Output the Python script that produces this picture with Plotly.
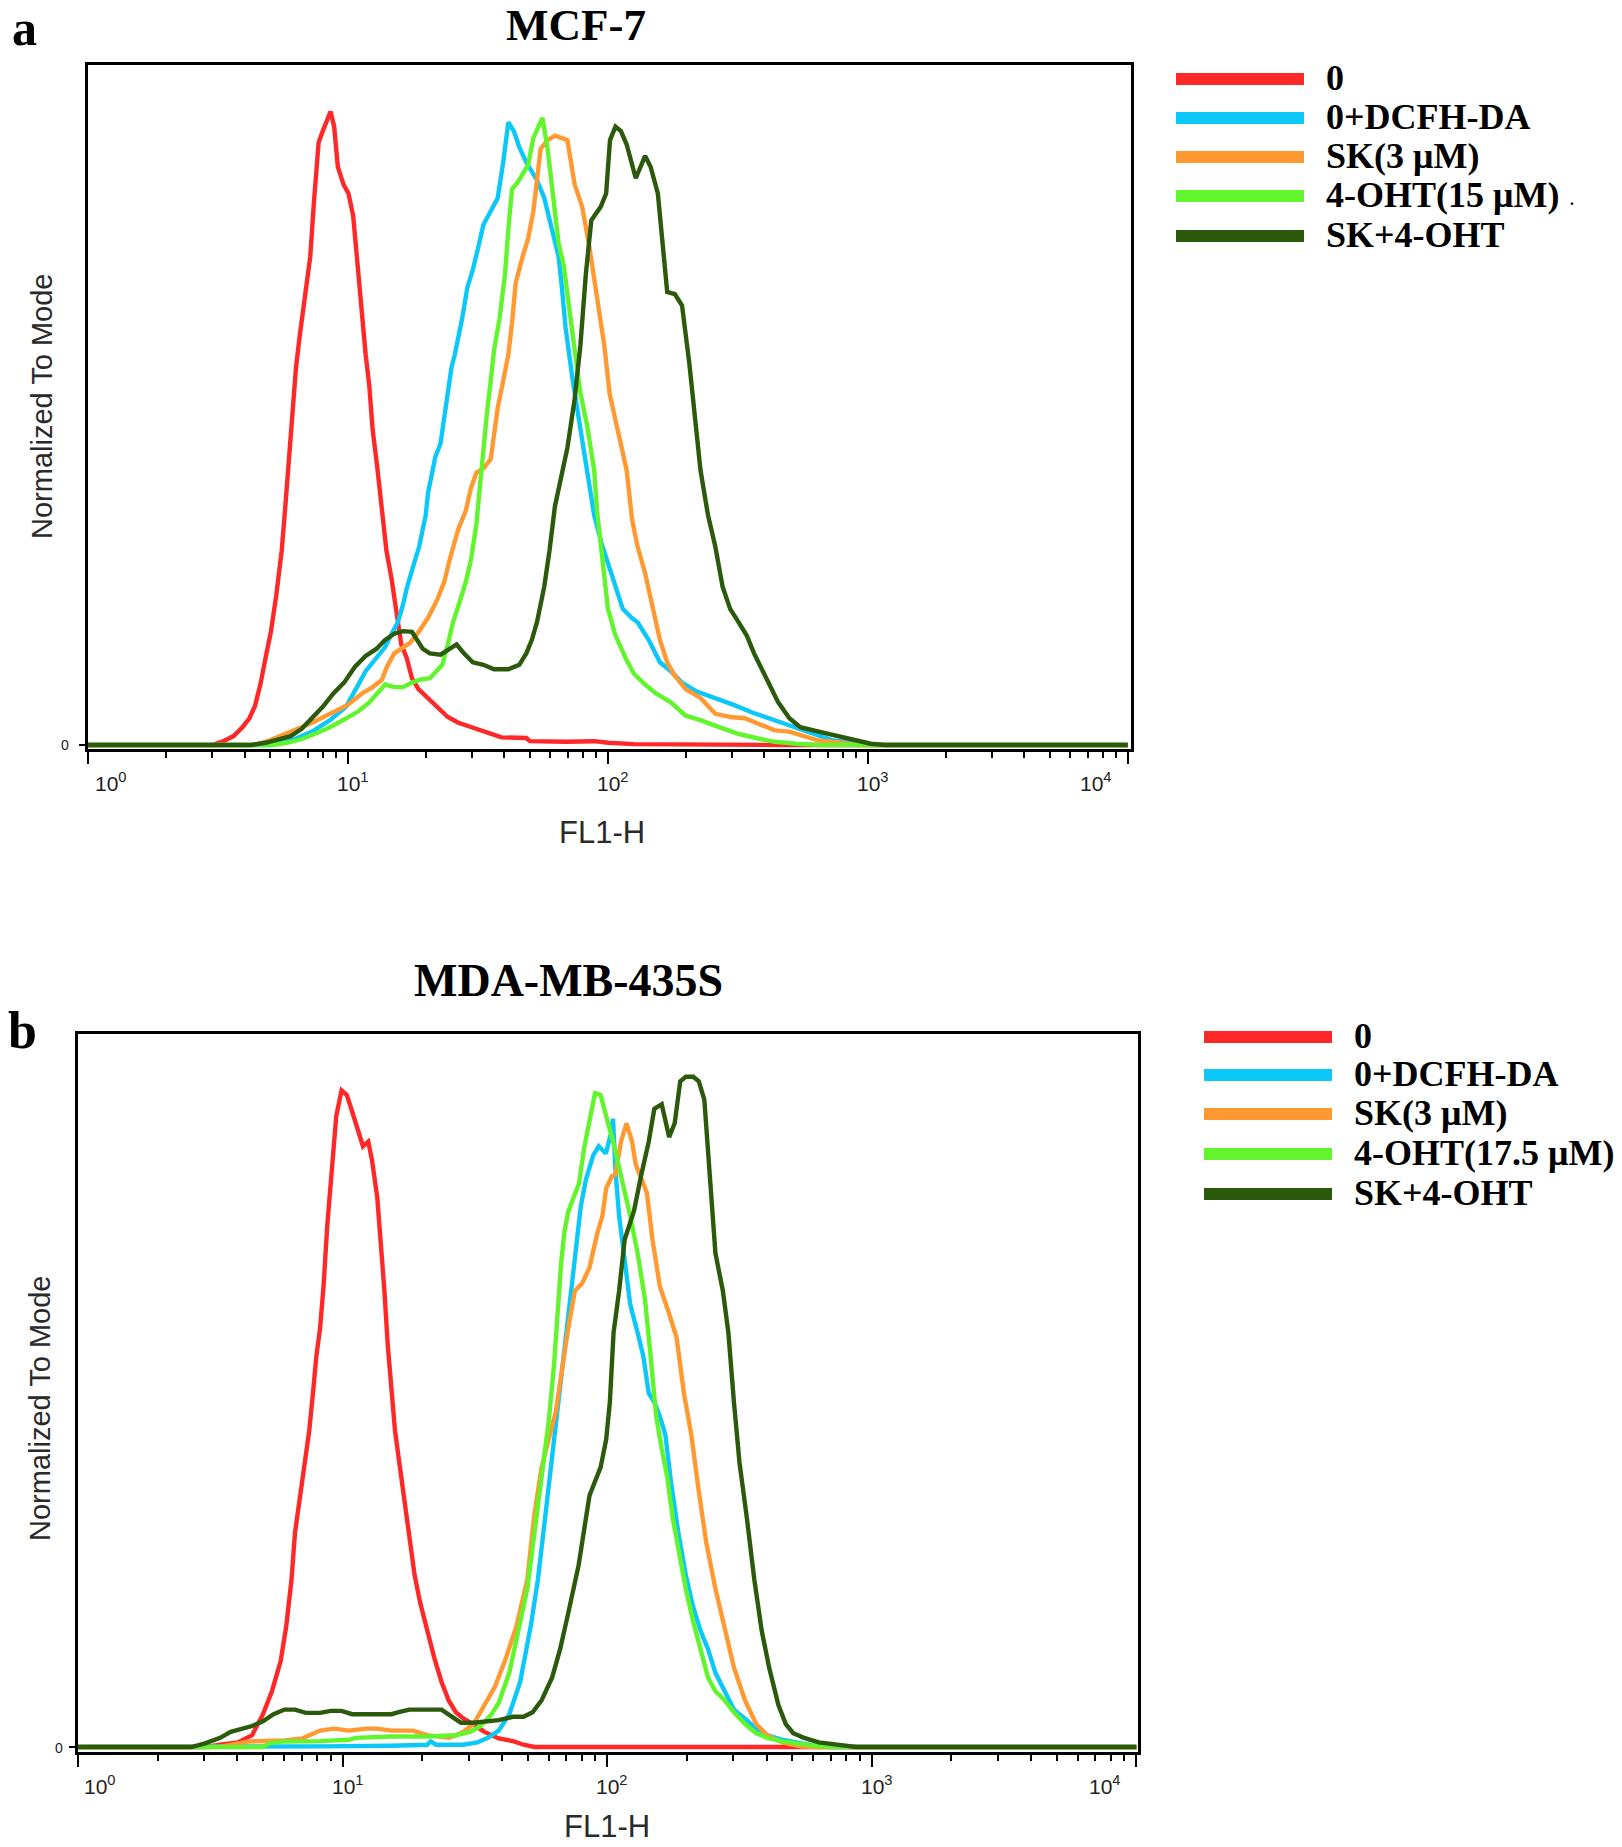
import numpy as np
import plotly.graph_objects as go

W, H = 1622, 1847

# ---------------- data (x = log10 FL1-H, y = % of mode) ----------------
SERIES_A = ["0", "0+DCFH-DA", "SK(3 μM)", "4-OHT(15 μM)", "SK+4-OHT"]
SERIES_B = ["0", "0+DCFH-DA", "SK(3 μM)", "4-OHT(17.5 μM)", "SK+4-OHT"]
COLORS = ["#FF2828", "#0CC8F8", "#FF9A33", "#62F52E", "#2C5A0C"]
DECADE_LABELS = ["10<sup>0</sup>", "10<sup>1</sup>", "10<sup>2</sup>", "10<sup>3</sup>", "10<sup>4</sup>"]

A_RED = [(0, 0), (0.477, 0), (0.518, 0.56), (0.560, 1.4), (0.594, 2.8), (0.621, 4.2), (0.642, 6.1),
         (0.663, 9.5), (0.683, 13.7), (0.704, 17.9), (0.724, 23.5), (0.745, 30.5), (0.759, 37.5),
         (0.773, 44.6), (0.786, 51.6), (0.800, 59.3), (0.814, 64.2), (0.828, 68.4), (0.841, 72.6),
         (0.855, 76.8), (0.869, 85.3), (0.887, 94.7), (0.903, 96.5), (0.933, 99.6), (0.947, 97.2),
         (0.961, 90.9), (0.983, 88.1), (1.002, 86.7), (1.020, 83.2), (1.038, 74.7), (1.054, 68.4),
         (1.068, 61.4), (1.082, 56.5), (1.095, 49.5), (1.112, 43.9), (1.130, 37.5), (1.148, 30.5),
         (1.167, 26.3), (1.185, 21.4), (1.205, 15.8), (1.226, 13.7), (1.246, 10.5), (1.271, 8.8),
         (1.308, 7.4), (1.343, 6.0), (1.384, 4.4), (1.425, 3.5), (1.480, 2.7), (1.535, 1.9),
         (1.590, 1.2), (1.686, 1.1), (1.700, 0.6), (1.837, 0.5), (1.920, 0.7), (1.947, 0.6),
         (2.002, 0.35), (2.10, 0.14), (2.641, 0), (4.0, 0)]
A_BLUE = [(0, 0), (0.697, 0), (0.738, 0.35), (0.793, 0.9), (0.862, 2.1), (0.931, 3.9), (0.992, 6.0),
          (1.013, 7.4), (1.040, 9.5), (1.068, 11.6), (1.109, 13.7), (1.143, 15.4), (1.164, 17.2),
          (1.192, 19.3), (1.212, 22.1), (1.226, 24.6), (1.253, 28.4), (1.274, 31.2), (1.288, 34.0),
          (1.299, 36.1), (1.308, 39.6), (1.322, 42.5), (1.336, 45.3), (1.356, 47.4), (1.370, 51.6),
          (1.384, 55.1), (1.398, 59.3), (1.411, 61.4), (1.425, 64.2), (1.439, 67.0), (1.459, 71.9),
          (1.480, 74.7), (1.501, 78.2), (1.521, 81.8), (1.549, 83.9), (1.576, 86.0), (1.597, 91.6),
          (1.617, 97.9), (1.638, 96.5), (1.659, 94.0), (1.686, 91.6), (1.727, 88.8), (1.755, 86.0),
          (1.782, 81.8), (1.810, 76.8), (1.823, 71.9), (1.837, 65.6), (1.865, 57.2), (1.892, 50.2),
          (1.920, 43.2), (1.947, 36.1), (1.974, 31.9), (2.002, 28.4), (2.029, 24.9), (2.057, 21.4),
          (2.091, 20.0), (2.114, 19.3), (2.157, 16.5), (2.200, 13.0), (2.242, 11.6), (2.285, 9.8),
          (2.342, 8.4), (2.413, 7.4), (2.484, 6.3), (2.555, 5.1), (2.626, 4.2), (2.683, 3.3),
          (2.740, 2.5), (2.811, 1.4), (2.868, 0.7), (2.954, 0.35), (3.011, 0), (4.0, 0)]
A_ORANGE = [(0, 0), (0.642, 0), (0.697, 0.7), (0.752, 1.6), (0.807, 2.5), (0.862, 3.5), (0.931, 4.9),
            (0.999, 6.3), (1.054, 8.1), (1.095, 9.1), (1.130, 10.2), (1.150, 12.3), (1.178, 14.4),
            (1.205, 15.1), (1.240, 16.1), (1.274, 17.9), (1.308, 20.0), (1.343, 22.8), (1.370, 25.6),
            (1.391, 29.1), (1.404, 31.2), (1.425, 34.0), (1.453, 36.8), (1.473, 40.4), (1.494, 42.8),
            (1.521, 43.5), (1.549, 44.9), (1.562, 48.8), (1.576, 53.0), (1.597, 57.2), (1.617, 61.4),
            (1.631, 66.3), (1.645, 72.6), (1.672, 76.8), (1.693, 79.6), (1.713, 83.9), (1.727, 89.5),
            (1.741, 93.7), (1.768, 95.1), (1.796, 95.8), (1.823, 95.4), (1.844, 95.1), (1.872, 88.1),
            (1.901, 84.6), (1.929, 78.2), (1.958, 69.8), (1.986, 62.8), (2.007, 55.1), (2.043, 48.8),
            (2.072, 43.2), (2.093, 35.4), (2.114, 31.2), (2.143, 27.0), (2.171, 22.1), (2.200, 16.5),
            (2.228, 13.0), (2.257, 10.9), (2.299, 8.8), (2.356, 7.4), (2.413, 4.9), (2.470, 4.4),
            (2.527, 4.2), (2.584, 3.2), (2.641, 2.3), (2.698, 2.1), (2.754, 1.4), (2.811, 0.7),
            (2.897, 0.35), (2.954, 0), (4.0, 0)]
A_GREEN = [(0, 0), (0.711, 0), (0.766, 0.35), (0.821, 0.9), (0.876, 1.8), (0.931, 2.8), (0.985, 4.0),
           (1.040, 5.3), (1.082, 6.7), (1.116, 8.4), (1.143, 9.5), (1.178, 9.1), (1.212, 9.1),
           (1.246, 9.8), (1.281, 10.3), (1.315, 10.5), (1.343, 11.6), (1.363, 12.6), (1.384, 15.8),
           (1.404, 19.3), (1.432, 22.8), (1.453, 25.6), (1.473, 29.1), (1.494, 34.7), (1.507, 40.4),
           (1.521, 46.7), (1.535, 52.3), (1.549, 57.2), (1.562, 62.1), (1.583, 67.0), (1.604, 74.0),
           (1.617, 81.1), (1.631, 87.4), (1.652, 88.4), (1.672, 89.8), (1.693, 91.2), (1.713, 95.4),
           (1.734, 97.5), (1.748, 98.6), (1.768, 93.7), (1.789, 86.7), (1.810, 78.9), (1.830, 75.4),
           (1.851, 68.4), (1.871, 61.4), (1.892, 55.8), (1.920, 50.2), (1.947, 43.2), (1.958, 36.8),
           (1.979, 29.1), (2.000, 21.4), (2.029, 17.2), (2.072, 13.3), (2.100, 11.2), (2.143, 9.5),
           (2.185, 8.1), (2.242, 6.7), (2.299, 4.6), (2.356, 3.9), (2.427, 2.8), (2.498, 1.8),
           (2.569, 1.1), (2.641, 0.5), (2.726, 0.2), (2.811, 0), (4.0, 0)]
A_DARK = [(0, 0), (0.628, 0), (0.683, 0.35), (0.738, 0.9), (0.779, 1.4), (0.821, 2.5), (0.862, 4.2),
          (0.903, 6.0), (0.944, 8.1), (0.985, 9.8), (1.027, 12.3), (1.068, 14.0), (1.109, 15.1),
          (1.143, 16.5), (1.178, 17.5), (1.212, 17.9), (1.246, 17.8), (1.267, 16.5), (1.288, 15.1),
          (1.315, 14.4), (1.356, 14.2), (1.391, 15.1), (1.418, 15.8), (1.446, 14.4), (1.480, 13.0),
          (1.521, 12.6), (1.562, 11.9), (1.617, 11.9), (1.659, 12.6), (1.686, 14.4), (1.707, 16.5),
          (1.727, 19.3), (1.755, 24.9), (1.775, 30.5), (1.796, 37.5), (1.844, 46.7), (1.872, 54.4),
          (1.894, 62.8), (1.915, 74.0), (1.936, 82.5), (1.972, 84.6), (1.993, 86.7), (2.008, 95.1),
          (2.029, 97.2), (2.050, 96.5), (2.072, 94.4), (2.107, 89.1), (2.143, 92.6), (2.164, 90.9),
          (2.192, 86.7), (2.214, 78.2), (2.228, 71.2), (2.257, 70.9), (2.285, 69.1), (2.313, 60.0),
          (2.335, 51.6), (2.356, 43.2), (2.385, 36.1), (2.413, 31.2), (2.441, 24.9), (2.470, 21.4),
          (2.498, 19.6), (2.534, 17.2), (2.562, 14.4), (2.612, 10.2), (2.655, 6.7), (2.698, 4.2),
          (2.740, 2.8), (2.811, 2.1), (2.883, 1.4), (2.954, 0.7), (3.011, 0.2), (3.068, 0), (4.0, 0)]

B_RED = [(0, 0), (0.483, 0), (0.537, 0.35), (0.604, 0.7), (0.658, 1.8), (0.699, 5.0), (0.733, 8.5),
         (0.766, 13.1), (0.787, 18.4), (0.807, 25.5), (0.820, 32.6), (0.834, 36.9), (0.847, 40.4),
         (0.861, 44.0), (0.874, 48.2), (0.888, 53.9), (0.901, 59.6), (0.915, 63.8), (0.928, 70.2),
         (0.942, 79.4), (0.955, 85.8), (0.969, 91.5), (0.976, 96.1), (0.996, 100), (1.016, 99.3),
         (1.036, 96.8), (1.057, 94.0), (1.077, 91.5), (1.097, 92.2), (1.111, 89.4), (1.131, 83.7),
         (1.144, 77.3), (1.158, 69.5), (1.171, 61.0), (1.185, 53.9), (1.198, 48.2), (1.212, 44.0),
         (1.232, 38.3), (1.252, 32.6), (1.272, 26.2), (1.293, 22.0), (1.320, 17.7), (1.347, 13.5),
         (1.374, 9.9), (1.401, 7.1), (1.428, 5.3), (1.455, 4.4), (1.495, 3.4), (1.536, 2.3),
         (1.590, 1.3), (1.644, 0.9), (1.684, 0.35), (1.725, 0), (4.0, 0)]
B_BLUE = [(0, 0), (0.726, 0), (0.915, 0.1), (1.185, 0.2), (1.320, 0.35), (1.333, 0.85), (1.353, 0.35),
          (1.455, 0.35), (1.509, 0.7), (1.549, 1.4), (1.590, 2.5), (1.630, 5.0), (1.671, 9.9),
          (1.711, 18.4), (1.738, 25.5), (1.765, 34.8), (1.792, 44.0), (1.819, 53.9), (1.839, 61.0),
          (1.860, 68.1), (1.880, 75.2), (1.900, 82.3), (1.920, 86.5), (1.947, 90.1), (1.968, 91.5),
          (1.995, 90.4), (2.015, 93.6), (2.022, 95.7), (2.031, 87.9), (2.045, 80.9), (2.066, 73.8),
          (2.087, 67.4), (2.115, 63.1), (2.136, 59.6), (2.157, 53.9), (2.178, 52.5), (2.199, 50.4),
          (2.220, 47.5), (2.241, 40.4), (2.269, 32.6), (2.297, 26.2), (2.325, 21.3), (2.353, 17.7),
          (2.381, 14.9), (2.409, 11.3), (2.444, 8.5), (2.479, 5.7), (2.521, 4.3), (2.563, 2.8),
          (2.605, 1.8), (2.661, 1.1), (2.730, 0.6), (2.800, 0.1), (2.85, 0), (4.0, 0)]
B_ORANGE = [(0, 0), (0.537, 0), (0.645, 0.85), (0.780, 1.0), (0.847, 1.3), (0.915, 2.5), (0.969, 2.8),
            (1.023, 2.5), (1.090, 2.8), (1.131, 2.8), (1.185, 2.5), (1.266, 2.5), (1.320, 1.8),
            (1.401, 1.4), (1.428, 1.8), (1.455, 2.3), (1.495, 3.5), (1.536, 6.4), (1.576, 9.2),
            (1.617, 13.5), (1.657, 18.4), (1.698, 25.5), (1.725, 35.5), (1.752, 42.6), (1.779, 46.8),
            (1.806, 51.1), (1.850, 63.1), (1.878, 69.5), (1.905, 70.6), (1.933, 73.0), (1.961, 78.0),
            (1.982, 80.9), (1.996, 85.1), (2.017, 86.9), (2.031, 87.2), (2.052, 92.2), (2.073, 95.0),
            (2.094, 92.2), (2.108, 88.7), (2.129, 86.5), (2.150, 84.4), (2.171, 77.3), (2.199, 70.2),
            (2.234, 66.0), (2.262, 62.4), (2.290, 53.9), (2.318, 47.5), (2.346, 39.0), (2.374, 31.2),
            (2.409, 24.1), (2.444, 18.4), (2.479, 12.1), (2.521, 7.1), (2.563, 3.5), (2.605, 1.8),
            (2.661, 0.7), (2.730, 0.1), (2.78, 0), (4.0, 0)]
B_GREEN = [(0, 0), (0.699, 0), (0.726, 0.6), (0.780, 0.85), (0.915, 0.9), (1.023, 1.1), (1.050, 1.4),
           (1.185, 1.6), (1.320, 1.6), (1.428, 1.8), (1.482, 2.3), (1.522, 3.2), (1.563, 5.0),
           (1.590, 6.7), (1.630, 11.3), (1.657, 16.3), (1.698, 24.1), (1.725, 32.6), (1.752, 41.1),
           (1.779, 49.6), (1.799, 58.2), (1.812, 66.7), (1.826, 73.8), (1.839, 78.7), (1.853, 81.6),
           (1.873, 83.7), (1.893, 85.8), (1.914, 91.5), (1.934, 95.7), (1.954, 99.6), (1.975, 99.3),
           (2.003, 95.0), (2.031, 90.8), (2.059, 85.8), (2.087, 80.9), (2.115, 75.2), (2.143, 68.1),
           (2.164, 59.6), (2.185, 50.4), (2.206, 45.4), (2.227, 41.1), (2.248, 34.8), (2.269, 29.8),
           (2.297, 24.1), (2.325, 19.1), (2.353, 14.9), (2.381, 10.6), (2.409, 8.5), (2.444, 7.1),
           (2.479, 5.3), (2.521, 3.5), (2.563, 2.1), (2.605, 1.4), (2.661, 0.85), (2.717, 0.5),
           (2.800, 0.1), (2.85, 0), (4.0, 0)]
B_DARK = [(0, 0), (0.429, 0), (0.483, 0.6), (0.537, 1.4), (0.577, 2.3), (0.618, 2.8), (0.658, 3.2),
          (0.699, 3.9), (0.739, 5.0), (0.780, 5.7), (0.820, 5.7), (0.861, 5.2), (0.915, 5.2),
          (0.955, 5.5), (0.996, 5.5), (1.036, 5.0), (1.090, 5.0), (1.144, 5.0), (1.185, 5.0),
          (1.212, 5.3), (1.252, 5.7), (1.306, 5.7), (1.374, 5.7), (1.414, 4.6), (1.448, 3.7),
          (1.495, 3.7), (1.549, 4.0), (1.590, 4.1), (1.644, 4.6), (1.684, 4.6), (1.718, 5.3),
          (1.752, 7.1), (1.792, 10.6), (1.822, 14.9), (1.850, 19.9), (1.892, 27.7), (1.933, 38.3),
          (1.975, 42.6), (1.996, 46.8), (2.010, 52.5), (2.024, 63.1), (2.045, 69.5), (2.066, 77.3),
          (2.101, 81.6), (2.129, 87.2), (2.157, 92.2), (2.178, 97.2), (2.206, 97.9), (2.234, 92.9),
          (2.255, 95.0), (2.276, 101.4), (2.297, 102.1), (2.325, 102.1), (2.346, 101.4), (2.367, 98.6),
          (2.381, 91.5), (2.395, 82.3), (2.409, 75.2), (2.437, 69.5), (2.458, 63.1), (2.479, 52.5),
          (2.500, 43.3), (2.528, 34.8), (2.556, 25.5), (2.584, 17.7), (2.612, 12.1), (2.647, 6.4),
          (2.675, 3.5), (2.703, 2.1), (2.744, 1.4), (2.800, 0.7), (2.884, 0.2), (2.940, 0), (4.0, 0)]

PANEL_A = [A_RED, A_BLUE, A_ORANGE, A_GREEN, A_DARK]
PANEL_B = [B_RED, B_BLUE, B_ORANGE, B_GREEN, B_DARK]


# ---------------- layout helpers ----------------
def pxx(x):
    return x / W


def pxy(y):
    return 1 - y / H


fig = go.Figure()

for series, names, xa, ya in [(PANEL_A, SERIES_A, "x", "y"), (PANEL_B, SERIES_B, "x2", "y2")]:
    for pts, name, col in zip(series, names, COLORS):
        arr = np.array(pts, dtype=float)
        fig.add_trace(go.Scatter(
            x=10 ** arr[:, 0], y=arr[:, 1], mode="lines", name=name,
            line=dict(color=col, width=4.4), xaxis=xa, yaxis=ya, showlegend=False,
            hoverinfo="skip"))

majors = [1, 10, 100, 1000, 10000]
minors = [m * 10 ** k for k in range(4) for m in range(2, 10)]


def xaxis_cfg(dom, rng):
    return dict(type="log", domain=dom, range=rng, showline=True, linecolor="black", linewidth=3.4,
                mirror=True, showgrid=False, zeroline=False, ticks="outside", tickvals=majors,
                ticklen=12, tickwidth=1.8, tickcolor="black", showticklabels=False,
                minor=dict(tickvals=minors, ticks="outside", ticklen=6, tickwidth=1.8,
                           tickcolor="black", showgrid=False))


def yaxis_cfg(dom, rng):
    return dict(domain=dom, range=rng, showline=True, linecolor="black", linewidth=3.4, mirror=True,
                showgrid=False, zeroline=False, ticks="outside", tickvals=[0], ticklen=6,
                tickwidth=1.8, tickcolor="black", showticklabels=False)


# panel a box: x 88..1131, y 65..749 ; panel b box: x 78..1138, y 1034..1752
fig.update_layout(
    width=W, height=H, margin=dict(l=0, r=0, t=0, b=0), paper_bgcolor="white", plot_bgcolor="white",
    xaxis=dict(xaxis_cfg([pxx(88), pxx(1131)], [0, 4.012]), anchor="y"),
    yaxis=dict(yaxis_cfg([pxy(749), pxy(65)], [-0.63, 106.9]), anchor="x"),
    xaxis2=dict(xaxis_cfg([pxx(78), pxx(1138)], [0, 4.006]), anchor="y2"),
    yaxis2=dict(yaxis_cfg([pxy(1752), pxy(1034)], [-0.76, 108.6]), anchor="x2"),
)

SERIF = "Liberation Serif, Times New Roman, serif"
SANS = "Liberation Sans, Arial, sans-serif"
ann = []
shapes = []


def text(t, x, y, size, family, bold=False, xanchor="center", yanchor="middle", color="black",
         angle=0):
    ann.append(dict(text=t, x=pxx(x), y=pxy(y), xref="paper",
                    yref="paper", showarrow=False, xanchor=xanchor, yanchor=yanchor,
                    font=dict(family=family, size=size, color=color,
                              weight=("bold" if bold else "normal")),
                    textangle=angle, borderpad=0))


# panel letters and titles
text("a", 24, 28, 50, SERIF, bold=True)
text("MCF-7", 576, 25, 45, SERIF, bold=True)
text("b", 22, 1030, 52, SERIF, bold=True)
text("MDA-MB-435S", 568, 980, 46, SERIF, bold=True)

# axis titles
text("FL1-H", 602, 832, 31, SANS, color="#2a2a2a")
text("FL1-H", 607, 1826, 31, SANS, color="#2a2a2a")
text("Normalized To Mode", 42, 407, 29, SANS, color="#2a2a2a", angle=-90)
text("Normalized To Mode", 40, 1409, 29, SANS, color="#2a2a2a", angle=-90)

# y "0" labels
text("0", 70, 745, 14, SANS, xanchor="right", color="#222")
text("0", 64, 1748, 14, SANS, xanchor="right", color="#222")

# decade tick labels
for xr, ytop, shifts in [("x", 768, [23, 5, 5, 5, -32]), ("x2", 1771, [22, 5, 5, 5, -31])]:
    for k, lab in enumerate(DECADE_LABELS):
        ann.append(dict(text=lab, x=k, xref=xr, y=pxy(ytop), yref="paper", yanchor="top",
                        xanchor="center", xshift=shifts[k], showarrow=False, borderpad=0,
                        font=dict(family=SANS, size=21, color="#222")))

# legends (drawn as thick sample lines + labels)
for names, x0, x1, tx, ys in [(SERIES_A, 1176, 1304, 1325, [79, 118, 157, 196, 236]),
                              (SERIES_B, 1204, 1332, 1353, [1037, 1075, 1114, 1154, 1194])]:
    for name, col, yy in zip(names, COLORS, ys):
        shapes.append(dict(type="line", xref="paper", yref="paper", x0=pxx(x0), x1=pxx(x1),
                           y0=pxy(yy), y1=pxy(yy), line=dict(color=col, width=12)))
        text(name, tx, yy - 1, 36, SERIF, bold=True, xanchor="left")
# small stray dot after the 15 uM label in the original
text(".", 1572, 200, 16, SERIF, bold=True)

fig.update_layout(annotations=ann, shapes=shapes)

fig.write_html("out.html", include_plotlyjs=True, config={"displayModeBar": False},
               post_script="document.body.style.margin='0px';")
